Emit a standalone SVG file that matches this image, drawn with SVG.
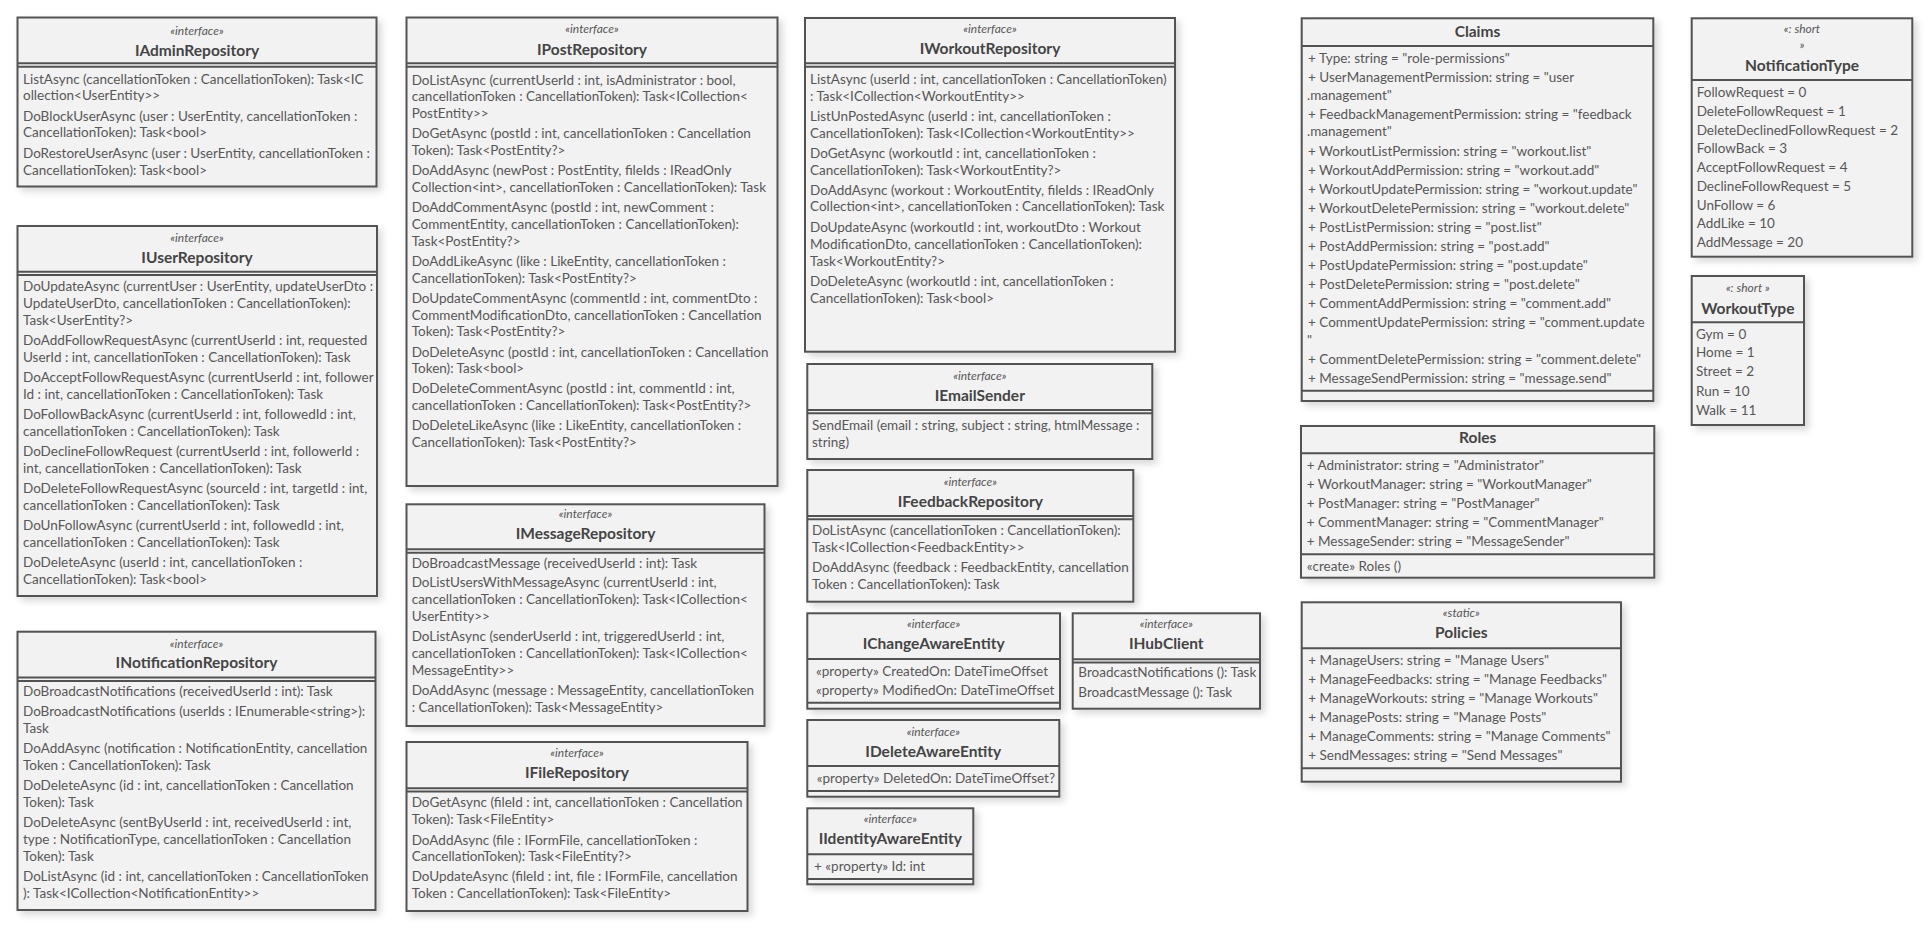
<svg xmlns="http://www.w3.org/2000/svg" width="1932" height="931" viewBox="0 0 1932 931">
<style>
  .box { fill: #f2f2f2; stroke: #525252; stroke-width: 2; filter: url(#shadow); }
  .sep { stroke: #525252; stroke-width: 2; }
  text { font-family: Lato, "Liberation Sans", sans-serif; fill: #575757; }
  .st { font-size: 12px; font-style: italic; text-anchor: middle; }
  .nm { font-size: 15.5px; font-weight: bold; text-anchor: middle; fill: #444; }
  .tx { font-size: 13.5px; }
</style>
<defs>
  <filter id="shadow" x="-10%" y="-10%" width="130%" height="130%">
    <feDropShadow dx="4" dy="4" stdDeviation="3.5" flood-color="#000" flood-opacity="0.15"/>
  </filter>
</defs>
<rect width="1932" height="931" fill="#fff"/>

<g id="IAdminRepository">
  <rect class="box" x="17.5" y="17.5" width="359" height="169"/>
  <text class="st" x="197" y="34.5">«interface»</text>
  <text class="nm" x="197" y="55.5">IAdminRepository</text>
  <line class="sep" x1="17.5" y1="63.3" x2="376.5" y2="63.3"/>
  <line class="sep" x1="17.5" y1="66.7" x2="376.5" y2="66.7"/>
  <text class="tx" x="23" y="84">ListAsync (cancellationToken : CancellationToken): Task&lt;IC</text>
  <text class="tx" x="23" y="100">ollection&lt;UserEntity&gt;&gt;</text>
  <text class="tx" x="23" y="120.5">DoBlockUserAsync (user : UserEntity, cancellationToken :</text>
  <text class="tx" x="23" y="137">CancellationToken): Task&lt;bool&gt;</text>
  <text class="tx" x="23" y="158">DoRestoreUserAsync (user : UserEntity, cancellationToken :</text>
  <text class="tx" x="23" y="174.5">CancellationToken): Task&lt;bool&gt;</text>
</g>

<g id="IUserRepository">
  <rect class="box" x="17.5" y="226" width="359.5" height="370"/>
  <text class="st" x="197" y="242">«interface»</text>
  <text class="nm" x="197" y="262.7">IUserRepository</text>
  <line class="sep" x1="17.5" y1="271.7" x2="377" y2="271.7"/>
  <line class="sep" x1="17.5" y1="275" x2="377" y2="275"/>
  <text class="tx" x="23" y="291">DoUpdateAsync (currentUser : UserEntity, updateUserDto :</text>
  <text class="tx" x="23" y="308">UpdateUserDto, cancellationToken : CancellationToken):</text>
  <text class="tx" x="23" y="325.3">Task&lt;UserEntity?&gt;</text>
  <text class="tx" x="23" y="345.3">DoAddFollowRequestAsync (currentUserId : int, requested</text>
  <text class="tx" x="23" y="362">UserId : int, cancellationToken : CancellationToken): Task</text>
  <text class="tx" x="23" y="382">DoAcceptFollowRequestAsync (currentUserId : int, follower</text>
  <text class="tx" x="23" y="399">Id : int, cancellationToken : CancellationToken): Task</text>
  <text class="tx" x="23" y="419">DoFollowBackAsync (currentUserId : int, followedId : int,</text>
  <text class="tx" x="23" y="436.3">cancellationToken : CancellationToken): Task</text>
  <text class="tx" x="23" y="456.3">DoDeclineFollowRequest (currentUserId : int, followerId :</text>
  <text class="tx" x="23" y="473">int, cancellationToken : CancellationToken): Task</text>
  <text class="tx" x="23" y="493.3">DoDeleteFollowRequestAsync (sourceId : int, targetId : int,</text>
  <text class="tx" x="23" y="510.3">cancellationToken : CancellationToken): Task</text>
  <text class="tx" x="23" y="530.3">DoUnFollowAsync (currentUserId : int, followedId : int,</text>
  <text class="tx" x="23" y="547.3">cancellationToken : CancellationToken): Task</text>
  <text class="tx" x="23" y="567.3">DoDeleteAsync (userId : int, cancellationToken :</text>
  <text class="tx" x="23" y="584">CancellationToken): Task&lt;bool&gt;</text>
</g>

<g id="INotificationRepository">
  <rect class="box" x="17.5" y="631.7" width="358" height="278.3"/>
  <text class="st" x="196.5" y="648">«interface»</text>
  <text class="nm" x="196.5" y="668.3">INotificationRepository</text>
  <line class="sep" x1="17.5" y1="677.5" x2="375.5" y2="677.5"/>
  <line class="sep" x1="17.5" y1="680.9" x2="375.5" y2="680.9"/>
  <text class="tx" x="23" y="696.3">DoBroadcastNotifications (receivedUserId : int): Task</text>
  <text class="tx" x="23" y="716.3">DoBroadcastNotifications (userIds : IEnumerable&lt;string&gt;):</text>
  <text class="tx" x="23" y="732.6">Task</text>
  <text class="tx" x="23" y="753">DoAddAsync (notification : NotificationEntity, cancellation</text>
  <text class="tx" x="23" y="769.6">Token : CancellationToken): Task</text>
  <text class="tx" x="23" y="790">DoDeleteAsync (id : int, cancellationToken : Cancellation</text>
  <text class="tx" x="23" y="806.6">Token): Task</text>
  <text class="tx" x="23" y="827">DoDeleteAsync (sentByUserId : int, receivedUserId : int,</text>
  <text class="tx" x="23" y="844">type : NotificationType, cancellationToken : Cancellation</text>
  <text class="tx" x="23" y="860.6">Token): Task</text>
  <text class="tx" x="23" y="881">DoListAsync (id : int, cancellationToken : CancellationToken</text>
  <text class="tx" x="23" y="898">): Task&lt;ICollection&lt;NotificationEntity&gt;&gt;</text>
</g>

<g id="IPostRepository">
  <rect class="box" x="406.5" y="17.5" width="371" height="468.5"/>
  <text class="st" x="592" y="33.3">«interface»</text>
  <text class="nm" x="592" y="55">IPostRepository</text>
  <line class="sep" x1="406.5" y1="63.3" x2="777.5" y2="63.3"/>
  <line class="sep" x1="406.5" y1="66.7" x2="777.5" y2="66.7"/>
  <text class="tx" x="411.7" y="84.6">DoListAsync (currentUserId : int, isAdministrator : bool,</text>
  <text class="tx" x="411.7" y="101.3">cancellationToken : CancellationToken): Task&lt;ICollection&lt;</text>
  <text class="tx" x="411.7" y="117.6">PostEntity&gt;&gt;</text>
  <text class="tx" x="411.7" y="138.3">DoGetAsync (postId : int, cancellationToken : Cancellation</text>
  <text class="tx" x="411.7" y="155">Token): Task&lt;PostEntity?&gt;</text>
  <text class="tx" x="411.7" y="175.3">DoAddAsync (newPost : PostEntity, fileIds : IReadOnly</text>
  <text class="tx" x="411.7" y="192">Collection&lt;int&gt;, cancellationToken : CancellationToken): Task</text>
  <text class="tx" x="411.7" y="212.3">DoAddCommentAsync (postId : int, newComment :</text>
  <text class="tx" x="411.7" y="229">CommentEntity, cancellationToken : CancellationToken):</text>
  <text class="tx" x="411.7" y="245.6">Task&lt;PostEntity?&gt;</text>
  <text class="tx" x="411.7" y="266">DoAddLikeAsync (like : LikeEntity, cancellationToken :</text>
  <text class="tx" x="411.7" y="283">CancellationToken): Task&lt;PostEntity?&gt;</text>
  <text class="tx" x="411.7" y="303">DoUpdateCommentAsync (commentId : int, commentDto :</text>
  <text class="tx" x="411.7" y="319.6">CommentModificationDto, cancellationToken : Cancellation</text>
  <text class="tx" x="411.7" y="336.3">Token): Task&lt;PostEntity?&gt;</text>
  <text class="tx" x="411.7" y="356.6">DoDeleteAsync (postId : int, cancellationToken : Cancellation</text>
  <text class="tx" x="411.7" y="373.3">Token): Task&lt;bool&gt;</text>
  <text class="tx" x="411.7" y="393.3">DoDeleteCommentAsync (postId : int, commentId : int,</text>
  <text class="tx" x="411.7" y="410.3">cancellationToken : CancellationToken): Task&lt;PostEntity?&gt;</text>
  <text class="tx" x="411.7" y="430.3">DoDeleteLikeAsync (like : LikeEntity, cancellationToken :</text>
  <text class="tx" x="411.7" y="447.3">CancellationToken): Task&lt;PostEntity?&gt;</text>
</g>

<g id="IMessageRepository">
  <rect class="box" x="406.5" y="504.3" width="358" height="221.7"/>
  <text class="st" x="585.5" y="518">«interface»</text>
  <text class="nm" x="585.5" y="539.3">IMessageRepository</text>
  <line class="sep" x1="406.5" y1="549.3" x2="764.5" y2="549.3"/>
  <line class="sep" x1="406.5" y1="552.7" x2="764.5" y2="552.7"/>
  <text class="tx" x="411.7" y="568">DoBroadcastMessage (receivedUserId : int): Task</text>
  <text class="tx" x="411.7" y="587">DoListUsersWithMessageAsync (currentUserId : int,</text>
  <text class="tx" x="411.7" y="603.6">cancellationToken : CancellationToken): Task&lt;ICollection&lt;</text>
  <text class="tx" x="411.7" y="620.6">UserEntity&gt;&gt;</text>
  <text class="tx" x="411.7" y="641.3">DoListAsync (senderUserId : int, triggeredUserId : int,</text>
  <text class="tx" x="411.7" y="658">cancellationToken : CancellationToken): Task&lt;ICollection&lt;</text>
  <text class="tx" x="411.7" y="675">MessageEntity&gt;&gt;</text>
  <text class="tx" x="411.7" y="695">DoAddAsync (message : MessageEntity, cancellationToken</text>
  <text class="tx" x="411.7" y="712">: CancellationToken): Task&lt;MessageEntity&gt;</text>
</g>

<g id="IFileRepository">
  <rect class="box" x="406.5" y="742" width="341" height="169"/>
  <text class="st" x="577" y="757.3">«interface»</text>
  <text class="nm" x="577" y="778.3">IFileRepository</text>
  <line class="sep" x1="406.5" y1="788.3" x2="747.5" y2="788.3"/>
  <line class="sep" x1="406.5" y1="791.6" x2="747.5" y2="791.6"/>
  <text class="tx" x="411.7" y="807.3">DoGetAsync (fileId : int, cancellationToken : Cancellation</text>
  <text class="tx" x="411.7" y="824.3">Token): Task&lt;FileEntity&gt;</text>
  <text class="tx" x="411.7" y="844.6">DoAddAsync (file : IFormFile, cancellationToken :</text>
  <text class="tx" x="411.7" y="861.3">CancellationToken): Task&lt;FileEntity?&gt;</text>
  <text class="tx" x="411.7" y="881.3">DoUpdateAsync (fileId : int, file : IFormFile, cancellation</text>
  <text class="tx" x="411.7" y="898.3">Token : CancellationToken): Task&lt;FileEntity&gt;</text>
</g>

<g id="IWorkoutRepository">
  <rect class="box" x="805" y="18" width="370" height="333.7"/>
  <text class="st" x="990" y="33.3">«interface»</text>
  <text class="nm" x="990" y="54.3">IWorkoutRepository</text>
  <line class="sep" x1="805" y1="63.3" x2="1175" y2="63.3"/>
  <line class="sep" x1="805" y1="66.7" x2="1175" y2="66.7"/>
  <text class="tx" x="810" y="83.6">ListAsync (userId : int, cancellationToken : CancellationToken)</text>
  <text class="tx" x="810" y="100.6">: Task&lt;ICollection&lt;WorkoutEntity&gt;&gt;</text>
  <text class="tx" x="810" y="120.6">ListUnPostedAsync (userId : int, cancellationToken :</text>
  <text class="tx" x="810" y="137.6">CancellationToken): Task&lt;ICollection&lt;WorkoutEntity&gt;&gt;</text>
  <text class="tx" x="810" y="157.6">DoGetAsync (workoutId : int, cancellationToken :</text>
  <text class="tx" x="810" y="174.6">CancellationToken): Task&lt;WorkoutEntity?&gt;</text>
  <text class="tx" x="810" y="194.6">DoAddAsync (workout : WorkoutEntity, fileIds : IReadOnly</text>
  <text class="tx" x="810" y="211.3">Collection&lt;int&gt;, cancellationToken : CancellationToken): Task</text>
  <text class="tx" x="810" y="231.6">DoUpdateAsync (workoutId : int, workoutDto : Workout</text>
  <text class="tx" x="810" y="248.6">ModificationDto, cancellationToken : CancellationToken):</text>
  <text class="tx" x="810" y="265.6">Task&lt;WorkoutEntity?&gt;</text>
  <text class="tx" x="810" y="285.6">DoDeleteAsync (workoutId : int, cancellationToken :</text>
  <text class="tx" x="810" y="302.6">CancellationToken): Task&lt;bool&gt;</text>
</g>

<g id="IEmailSender">
  <rect class="box" x="807.3" y="364" width="345" height="95"/>
  <text class="st" x="979.8" y="379.7">«interface»</text>
  <text class="nm" x="979.8" y="400.7">IEmailSender</text>
  <line class="sep" x1="807.3" y1="410" x2="1152.3" y2="410"/>
  <line class="sep" x1="807.3" y1="413.3" x2="1152.3" y2="413.3"/>
  <text class="tx" x="812" y="429.6">SendEmail (email : string, subject : string, htmlMessage :</text>
  <text class="tx" x="812" y="447">string)</text>
</g>

<g id="IFeedbackRepository">
  <rect class="box" x="807.3" y="470" width="326" height="131.7"/>
  <text class="st" x="970.3" y="485.7">«interface»</text>
  <text class="nm" x="970.3" y="506.7">IFeedbackRepository</text>
  <line class="sep" x1="807.3" y1="516" x2="1133.3" y2="516"/>
  <line class="sep" x1="807.3" y1="519.3" x2="1133.3" y2="519.3"/>
  <text class="tx" x="812" y="535.3">DoListAsync (cancellationToken : CancellationToken):</text>
  <text class="tx" x="812" y="552.3">Task&lt;ICollection&lt;FeedbackEntity&gt;&gt;</text>
  <text class="tx" x="812" y="572.3">DoAddAsync (feedback : FeedbackEntity, cancellation</text>
  <text class="tx" x="812" y="589">Token : CancellationToken): Task</text>
</g>

<g id="IChangeAwareEntity">
  <rect class="box" x="807.3" y="613.3" width="252.7" height="95.4"/>
  <text class="st" x="933.7" y="628.3">«interface»</text>
  <text class="nm" x="933.7" y="649.3">IChangeAwareEntity</text>
  <line class="sep" x1="807.3" y1="659" x2="1060" y2="659"/>
  <text class="tx" x="816" y="675.6">«property» CreatedOn: DateTimeOffset</text>
  <text class="tx" x="816" y="694.6">«property» ModifiedOn: DateTimeOffset</text>
  <line class="sep" x1="807.3" y1="702.7" x2="1060" y2="702.7"/>
</g>

<g id="IHubClient">
  <rect class="box" x="1072.7" y="613.3" width="187.3" height="95.4"/>
  <text class="st" x="1166.3" y="628.3">«interface»</text>
  <text class="nm" x="1166.3" y="649.3">IHubClient</text>
  <line class="sep" x1="1072.7" y1="659.3" x2="1260" y2="659.3"/>
  <line class="sep" x1="1072.7" y1="662.6" x2="1260" y2="662.6"/>
  <text class="tx" x="1078.3" y="677.3">BroadcastNotifications (): Task</text>
  <text class="tx" x="1078.3" y="696.6">BroadcastMessage (): Task</text>
</g>

<g id="IDeleteAwareEntity">
  <rect class="box" x="807.3" y="720" width="252" height="76.7"/>
  <text class="st" x="933.3" y="735.7">«interface»</text>
  <text class="nm" x="933.3" y="756.7">IDeleteAwareEntity</text>
  <line class="sep" x1="807.3" y1="766" x2="1059.3" y2="766"/>
  <text class="tx" x="816.7" y="783">«property» DeletedOn: DateTimeOffset?</text>
  <line class="sep" x1="807.3" y1="791" x2="1059.3" y2="791"/>
</g>

<g id="IIdentityAwareEntity">
  <rect class="box" x="807.3" y="808.3" width="166" height="76"/>
  <text class="st" x="890.3" y="823.3">«interface»</text>
  <text class="nm" x="890.3" y="844.3">IIdentityAwareEntity</text>
  <line class="sep" x1="807.3" y1="854.3" x2="973.3" y2="854.3"/>
  <text class="tx" x="814" y="870.6">+ «property» Id: int</text>
  <line class="sep" x1="807.3" y1="879" x2="973.3" y2="879"/>
</g>

<g id="Claims">
  <rect class="box" x="1301.7" y="18.3" width="351.6" height="382.7"/>
  <text class="nm" x="1477.5" y="36.7">Claims</text>
  <line class="sep" x1="1301.7" y1="46" x2="1653.3" y2="46"/>
  <text class="tx" x="1308" y="62.9">+ Type: string = "role-permissions"</text>
  <text class="tx" x="1308" y="81.9">+ UserManagementPermission: string = "user</text>
  <text class="tx" x="1307" y="99.6">.management"</text>
  <text class="tx" x="1308" y="118.9">+ FeedbackManagementPermission: string = "feedback</text>
  <text class="tx" x="1307" y="136.3">.management"</text>
  <text class="tx" x="1308" y="155.6">+ WorkoutListPermission: string = "workout.list"</text>
  <text class="tx" x="1308" y="174.6">+ WorkoutAddPermission: string = "workout.add"</text>
  <text class="tx" x="1308" y="193.6">+ WorkoutUpdatePermission: string = "workout.update"</text>
  <text class="tx" x="1308" y="212.6">+ WorkoutDeletePermission: string = "workout.delete"</text>
  <text class="tx" x="1308" y="231.6">+ PostListPermission: string = "post.list"</text>
  <text class="tx" x="1308" y="250.6">+ PostAddPermission: string = "post.add"</text>
  <text class="tx" x="1308" y="269.6">+ PostUpdatePermission: string = "post.update"</text>
  <text class="tx" x="1308" y="288.6">+ PostDeletePermission: string = "post.delete"</text>
  <text class="tx" x="1308" y="307.6">+ CommentAddPermission: string = "comment.add"</text>
  <text class="tx" x="1308" y="327.3">+ CommentUpdatePermission: string = "comment.update</text>
  <text class="tx" x="1307" y="344.8">"</text>
  <text class="tx" x="1308" y="363.6">+ CommentDeletePermission: string = "comment.delete"</text>
  <text class="tx" x="1308" y="382.6">+ MessageSendPermission: string = "message.send"</text>
  <line class="sep" x1="1301.7" y1="390.7" x2="1653.3" y2="390.7"/>
</g>

<g id="Roles">
  <rect class="box" x="1301" y="426" width="353.3" height="151.7"/>
  <text class="nm" x="1477.7" y="443.3">Roles</text>
  <line class="sep" x1="1301" y1="453.3" x2="1654.3" y2="453.3"/>
  <text class="tx" x="1306.7" y="469.6">+ Administrator: string = "Administrator"</text>
  <text class="tx" x="1306.7" y="488.6">+ WorkoutManager: string = "WorkoutManager"</text>
  <text class="tx" x="1306.7" y="507.6">+ PostManager: string = "PostManager"</text>
  <text class="tx" x="1306.7" y="526.6">+ CommentManager: string = "CommentManager"</text>
  <text class="tx" x="1306.7" y="545.6">+ MessageSender: string = "MessageSender"</text>
  <line class="sep" x1="1301" y1="554.3" x2="1654.3" y2="554.3"/>
  <text class="tx" x="1306.7" y="570.6">«create» Roles ()</text>
</g>

<g id="Policies">
  <rect class="box" x="1301.7" y="602.3" width="319.3" height="179.4"/>
  <text class="st" x="1461.3" y="617.3">«static»</text>
  <text class="nm" x="1461.3" y="638.3">Policies</text>
  <line class="sep" x1="1301.7" y1="648.3" x2="1621" y2="648.3"/>
  <text class="tx" x="1308.3" y="664.6">+ ManageUsers: string = "Manage Users"</text>
  <text class="tx" x="1308.3" y="683.6">+ ManageFeedbacks: string = "Manage Feedbacks"</text>
  <text class="tx" x="1308.3" y="702.6">+ ManageWorkouts: string = "Manage Workouts"</text>
  <text class="tx" x="1308.3" y="721.6">+ ManagePosts: string = "Manage Posts"</text>
  <text class="tx" x="1308.3" y="740.6">+ ManageComments: string = "Manage Comments"</text>
  <text class="tx" x="1308.3" y="759.6">+ SendMessages: string = "Send Messages"</text>
  <line class="sep" x1="1301.7" y1="768.3" x2="1621" y2="768.3"/>
</g>

<g id="NotificationType">
  <rect class="box" x="1691.7" y="18.3" width="220.6" height="238.4"/>
  <text class="st" x="1802" y="33.3">«: short</text>
  <text class="st" x="1802" y="49">»</text>
  <text class="nm" x="1802" y="70.7">NotificationType</text>
  <line class="sep" x1="1691.7" y1="80" x2="1912.3" y2="80"/>
  <text class="tx" x="1696.7" y="96.6">FollowRequest = 0</text>
  <text class="tx" x="1696.7" y="115.6">DeleteFollowRequest = 1</text>
  <text class="tx" x="1696.7" y="134.6">DeleteDeclinedFollowRequest = 2</text>
  <text class="tx" x="1696.7" y="153.3">FollowBack = 3</text>
  <text class="tx" x="1696.7" y="172.1">AcceptFollowRequest = 4</text>
  <text class="tx" x="1696.7" y="190.8">DeclineFollowRequest = 5</text>
  <text class="tx" x="1696.7" y="209.6">UnFollow = 6</text>
  <text class="tx" x="1696.7" y="228.4">AddLike = 10</text>
  <text class="tx" x="1696.7" y="247.2">AddMessage = 20</text>
</g>

<g id="WorkoutType">
  <rect class="box" x="1691.7" y="276" width="112.3" height="149"/>
  <text class="st" x="1747.8" y="292.3">«: short  »</text>
  <text class="nm" x="1747.8" y="314">WorkoutType</text>
  <line class="sep" x1="1691.7" y1="322.3" x2="1804" y2="322.3"/>
  <text class="tx" x="1696" y="338.6">Gym = 0</text>
  <text class="tx" x="1696" y="357.3">Home = 1</text>
  <text class="tx" x="1696" y="376.3">Street = 2</text>
  <text class="tx" x="1696" y="395.6">Run = 10</text>
  <text class="tx" x="1696" y="414.6">Walk = 11</text>
</g>

<g id="connectors"/>
</svg>
